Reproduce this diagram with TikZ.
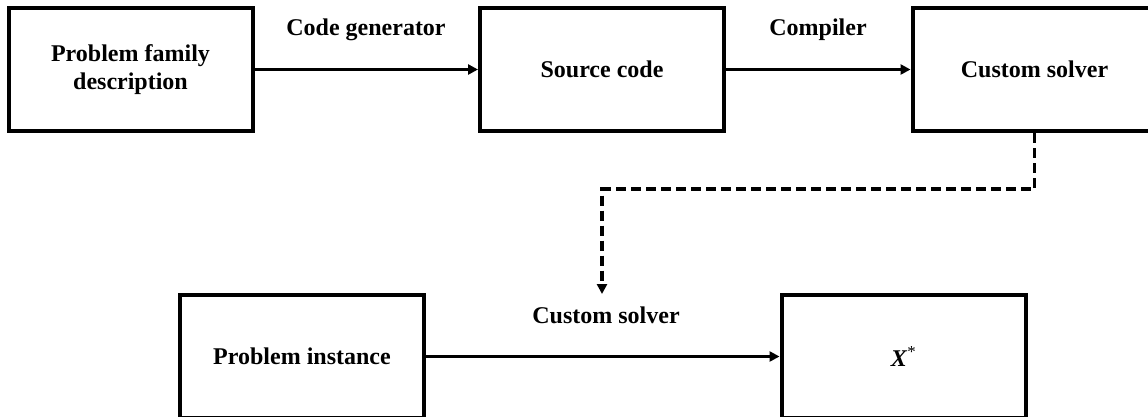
\documentclass[tikz,border=0pt]{standalone}
\usepackage{fontspec}
\setmainfont{Liberation Serif}
\usetikzlibrary{arrows.meta}
\tikzset{
  boxnode/.style={draw=black, line width=4pt, rectangle, minimum width=244pt, minimum height=123pt, inner sep=0pt, align=center, font=\fontsize{24}{28}\selectfont\bfseries},
  lbl/.style={inner sep=0pt, font=\fontsize{24}{28}\selectfont\bfseries},
  conn/.style={line width=3.2pt, -{Triangle[length=10pt,width=10pt]}},
  dconn/.style={conn, dash pattern=on 10pt off 5pt}
}
\begin{document}
\begin{tikzpicture}[x=1pt,y=-1pt]
\useasboundingbox (0,0) rectangle (1148,416);
\clip (0,0) rectangle (1148,416);
\node[boxnode] (pfd) at (130.5,69.5) {Problem family\\description};
\node[boxnode] (src) at (602,69.5) {Source code};
\node[boxnode] (cs) at (1034.5,69.5) {Custom solver};
\node[boxnode] (pi) at (302,356.5) {Problem instance};
\node[boxnode] (xs) at (903.5,356.5) {\textit{X}\textsuperscript{\mdseries *}};
\node[lbl] (l1) at (366,30) {Code generator};
\node[lbl] (l2) at (818,30) {Compiler};
\node[lbl] (l3) at (606,315) {Custom solver};
\coordinate (dend) at (602,294);
\draw[conn] (pfd.east) -- (src.west);
\draw[conn] (src.east) -- (cs.west);
\draw[conn] (pi.east) -- (xs.west);
\draw[dconn] (cs.south) -- ++(0,56) -| (dend);
\end{tikzpicture}
\end{document}
